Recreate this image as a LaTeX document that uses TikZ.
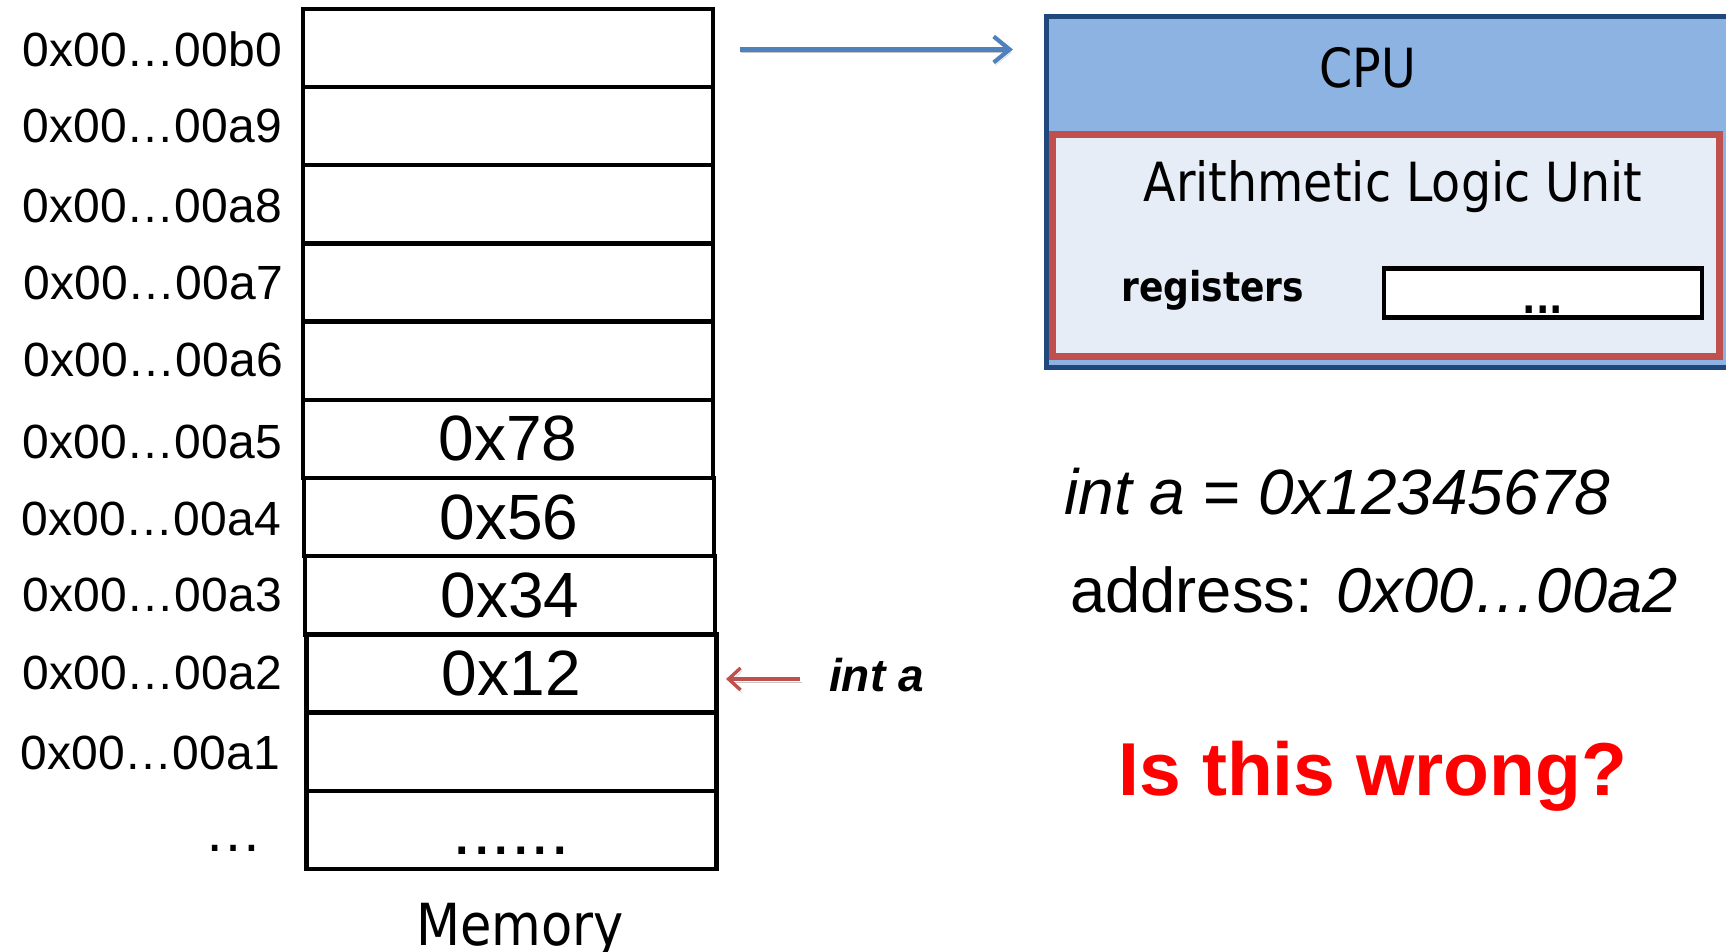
\documentclass[tikz,border=0pt]{standalone}
\usepackage{fontspec}
\setmainfont{Liberation Sans}
\newfontfamily\tahfont[FakeStretch=0.88]{DejaVu Sans}
\usetikzlibrary{arrows.meta}

\definecolor{cpublue}{HTML}{8DB3E2}
\definecolor{cpuedge}{HTML}{1F497D}
\definecolor{alured}{HTML}{C0504D}
\definecolor{alufill}{HTML}{E6EDF7}
\definecolor{linkblue}{HTML}{4F81BD}
\definecolor{alertred}{HTML}{FF0000}

\newcommand{\fsz}[1]{\fontsize{#1}{#1}\selectfont}

\begin{document}
\begin{tikzpicture}[x=1pt,y=-1pt,
  cell/.style={draw, line width=4.5pt, minimum width=410pt, minimum height=78.2pt,
               inner sep=0pt, font=\fsz{64}},
  addr/.style={anchor=east, inner sep=0pt, font=\fsz{48}},
  plain/.style={inner sep=0pt},
  shadowed/.style={preaction={draw=black, opacity=0.22,
                   transform canvas={shift={(1.5pt,-3pt)}}}},
  busarrow/.style={draw=linkblue, line width=4.2pt,
                   -{Straight Barb[length=16pt,width=26pt]}, shadowed},
  ptrarrow/.style={draw=alured, line width=3.4pt,
                   -{Straight Barb[length=12pt,width=22pt]}, shadowed}
]
\useasboundingbox (0,0) rectangle (1726,951);
\clip (0,0) rectangle (1726,951);

% memory cells, top to bottom
\node[cell] (c0)  at (508,47.9)  {};
\node[cell] (c1)  at (508,126.1) {};
\node[cell] (c2)  at (508,204.3) {};
\node[cell] (c3)  at (508,282.5) {};
\node[cell] (c4)  at (508,360.7) {};
\node[cell] (c5)  at (508,438.9) {0x78};
\node[cell] (c6)  at (509,517.1) {0x56};
\node[cell] (c7)  at (510,595.3) {0x34};
\node[cell] (c8)  at (511.3,673.5) {0x12};
\node[cell] (c9)  at (511.3,751.7) {};
\node[cell, font=\fsz{70}] (c10) at (511.3,829.9) {\vphantom{0}......};

% addresses
\node[addr] (a0)  at (282,48.9)  {0x00…00b0};
\node[addr] (a1)  at (282,126.1) {0x00…00a9};
\node[addr] (a2)  at (282,206.3) {0x00…00a8};
\node[addr] (a3)  at (283,282.5) {0x00…00a7};
\node[addr] (a4)  at (283,359.7) {0x00…00a6};
\node[addr] (a5)  at (282,442) {0x00…00a5};
\node[addr] (a6)  at (281,518.5) {0x00…00a4};
\node[addr] (a7)  at (282,594.5) {0x00…00a3};
\node[addr] (a8)  at (282,672.5) {0x00…00a2};
\node[addr] (a9)  at (280,753) {0x00…00a1};
\node[addr, font=\fsz{58}] (a10) at (263,832) {\vphantom{0}…};

\node[plain, anchor=base, font=\tahfont\fsz{58}] (mem) at (520,945) {Memory};

% CPU with its ALU and register file
\node[draw=cpuedge, fill=cpublue, line width=5pt, anchor=north west, outer sep=0pt,
      minimum width=714pt, minimum height=351pt, inner sep=0pt] (cpu) at (1046,16.5) {};
\node[plain, anchor=base, font=\tahfont\fsz{54}] (cpulbl) at (1368,87) {CPU};
\node[draw=alured, fill=alufill, line width=7pt, anchor=north west, outer sep=0pt,
      minimum width=667pt, minimum height=222pt, inner sep=0pt] (alu) at (1052.5,134.5) {};
\node[plain, anchor=base, font=\tahfont\fsz{54}] (alulbl) at (1393,201.5) {Arithmetic Logic Unit};
\node[plain, anchor=base west, font=\tahfont\bfseries\fsz{41}] (reglbl) at (1121,301.6) {registers};
\node[draw, fill=white, line width=4.5pt, minimum width=318pt, minimum height=49pt,
      inner sep=0pt] (reg) at (1542.75,293.2) {};
\node[plain, anchor=base, font=\tahfont\bfseries\fsz{40}] (regdots) at (1543,313.7) {...};

% statements on the right
\node[plain, anchor=base west, font=\fsz{64}] (decl) at (1064,514) {\textit{int a = 0x12345678}};
\node[plain, anchor=base west, font=\fsz{63.3}] (where) at (1070,612) {address: \textit{0x00…00a2}};
\node[plain, anchor=base west, font=\bfseries\itshape\fsz{46}] (inta) at (829,691) {int a};
\node[plain, anchor=base, font=\bfseries\fsz{75}, text=alertred] (ask) at (1373,795) {Is this wrong?};

% connectors
\coordinate (busend) at (1013,49.5);
\coordinate (ptrtail) at (800,679);
\path[busarrow] ([xshift=24.5pt]c0.east |- busend) -- (busend);
\path[ptrarrow] (ptrtail) -- ([xshift=7.5pt]c8.east |- ptrtail);
\end{tikzpicture}
\end{document}
